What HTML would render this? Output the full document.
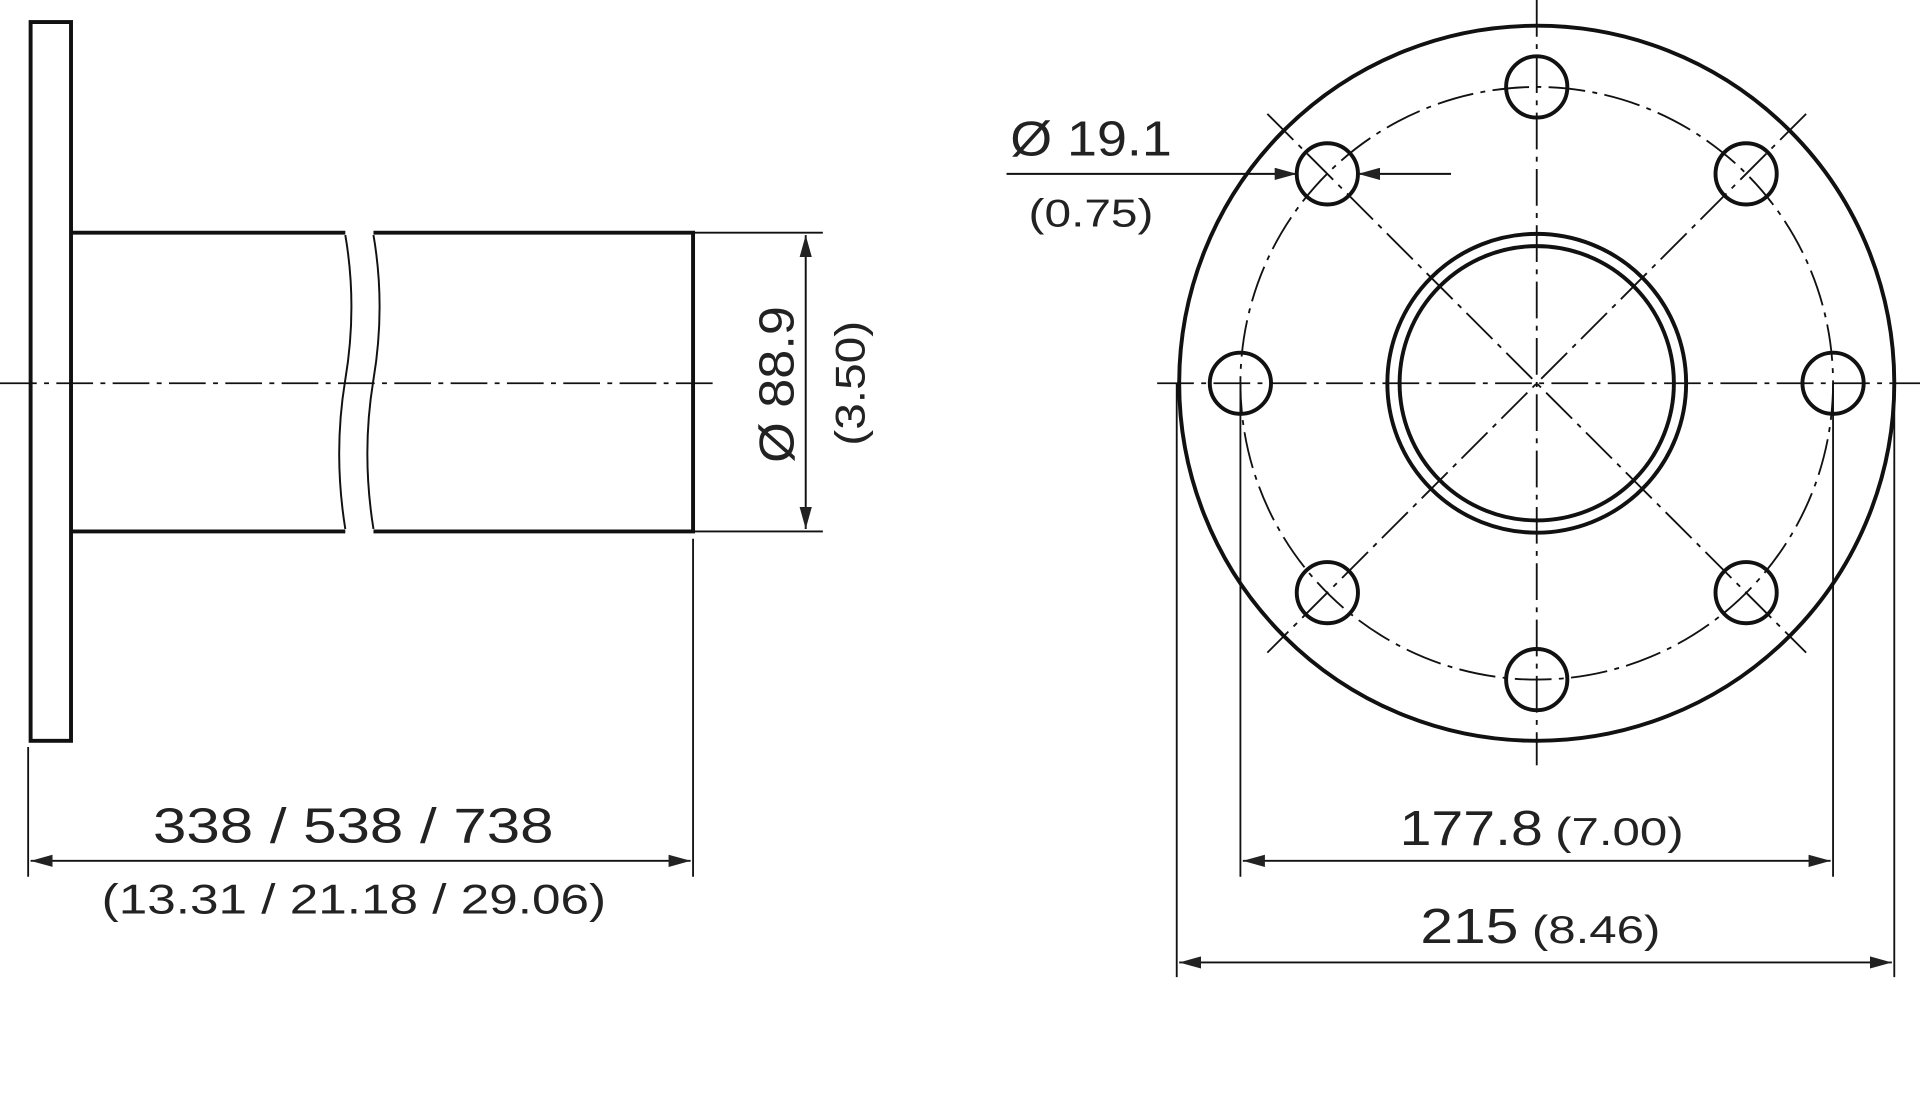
<!DOCTYPE html>
<html><head><style>html,body{margin:0;padding:0;background:#fff}svg{display:block}</style></head><body>
<svg width="1920" height="1104" viewBox="0 0 1568 901.6" preserveAspectRatio="none" xmlns="http://www.w3.org/2000/svg" font-family="Liberation Sans, sans-serif" fill="#222">
<defs>
<marker id="a" markerWidth="18" markerHeight="10" refX="18" refY="5" orient="auto" markerUnits="userSpaceOnUse"><path d="M0,0 L18,5 L0,10z" fill="#222"/></marker>
<marker id="b" markerWidth="18" markerHeight="10" refX="0" refY="5" orient="auto" markerUnits="userSpaceOnUse"><path d="M18,0 L0,5 L18,10z" fill="#222"/></marker>
</defs>
<g stroke="#111" fill="none">
<rect x="25" y="18" width="33" height="587" stroke-width="3.2"/>
<path d="M58 190 H282 M305 190 H566 V434 H305 M282 434 H58" stroke-width="3.2"/>
<path d="M282 192 Q292 250 282 310 Q272 370 282 432 M305 192 Q315 250 305 310 Q295 370 305 432" stroke-width="1.6"/>
<line x1="0" y1="313" x2="585" y2="313" stroke-width="1.5" stroke-dasharray="30,6,4,6"/>
<path d="M566 190 H672 M566 434 H672" stroke-width="1.5"/>
<line x1="658" y1="192" x2="658" y2="432" stroke-width="1.6" marker-start="url(#b)" marker-end="url(#a)"/>
<path d="M23 610 V716 M566 440 V716" stroke-width="1.5"/>
<line x1="25" y1="703" x2="564" y2="703" stroke-width="1.6" marker-start="url(#b)" marker-end="url(#a)"/>
<circle cx="1255" cy="313" r="292" stroke-width="3.2"/>
<circle cx="1255" cy="313" r="242" stroke-width="1.5" stroke-dasharray="30,6,4,6"/>
<circle cx="1255" cy="313" r="122" stroke-width="3.2"/>
<circle cx="1255" cy="313" r="112" stroke-width="3.2"/>
<line x1="945" y1="313" x2="1568" y2="313" stroke-width="1.5" stroke-dasharray="30,6,4,6"/>
<line x1="1255" y1="0" x2="1255" y2="625" stroke-width="1.5" stroke-dasharray="30,6,4,6"/>
<line x1="1035" y1="93" x2="1475" y2="533" stroke-width="1.5" stroke-dasharray="30,6,4,6"/>
<line x1="1475" y1="93" x2="1035" y2="533" stroke-width="1.5" stroke-dasharray="30,6,4,6"/>
<g stroke-width="3.2">
<circle cx="1255" cy="71" r="25"/><circle cx="1255" cy="555" r="25"/>
<circle cx="1013" cy="313" r="25"/><circle cx="1497" cy="313" r="25"/>
<circle cx="1084" cy="142" r="25"/><circle cx="1426" cy="142" r="25"/>
<circle cx="1084" cy="484" r="25"/><circle cx="1426" cy="484" r="25"/>
</g>
<path d="M1013 313 V716 M1497 313 V716 M961 313 V798 M1547 313 V798" stroke-width="1.5"/>
<line x1="1015" y1="703" x2="1495" y2="703" stroke-width="1.6" marker-start="url(#b)" marker-end="url(#a)"/>
<line x1="963" y1="786" x2="1545" y2="786" stroke-width="1.6" marker-start="url(#b)" marker-end="url(#a)"/>
<line x1="822" y1="142" x2="1059" y2="142" stroke-width="1.6" marker-end="url(#a)"/>
<line x1="1185" y1="142" x2="1109" y2="142" stroke-width="1.6" marker-end="url(#a)"/>
</g>
<text x="125" y="688" font-size="40" textLength="327" lengthAdjust="spacingAndGlyphs">338 / 538 / 738</text>
<text x="83" y="746" font-size="34" textLength="412" lengthAdjust="spacingAndGlyphs">(13.31 / 21.18 / 29.06)</text>
<text transform="translate(648 378) rotate(-90)" font-size="40" textLength="128" lengthAdjust="spacingAndGlyphs">Ø 88.9</text>
<text transform="translate(706 364) rotate(-90)" font-size="34" textLength="102" lengthAdjust="spacingAndGlyphs">(3.50)</text>
<text x="825" y="127" font-size="40" textLength="132" lengthAdjust="spacingAndGlyphs">Ø 19.1</text>
<text x="840" y="185" font-size="32" textLength="102" lengthAdjust="spacingAndGlyphs">(0.75)</text>
<text x="1143" y="690" font-size="40" textLength="117" lengthAdjust="spacingAndGlyphs">177.8</text>
<text x="1270" y="690" font-size="32" textLength="105" lengthAdjust="spacingAndGlyphs">(7.00)</text>
<text x="1160" y="770" font-size="40" textLength="80" lengthAdjust="spacingAndGlyphs">215</text>
<text x="1251" y="770" font-size="32" textLength="105" lengthAdjust="spacingAndGlyphs">(8.46)</text>
</svg>
</body></html>
